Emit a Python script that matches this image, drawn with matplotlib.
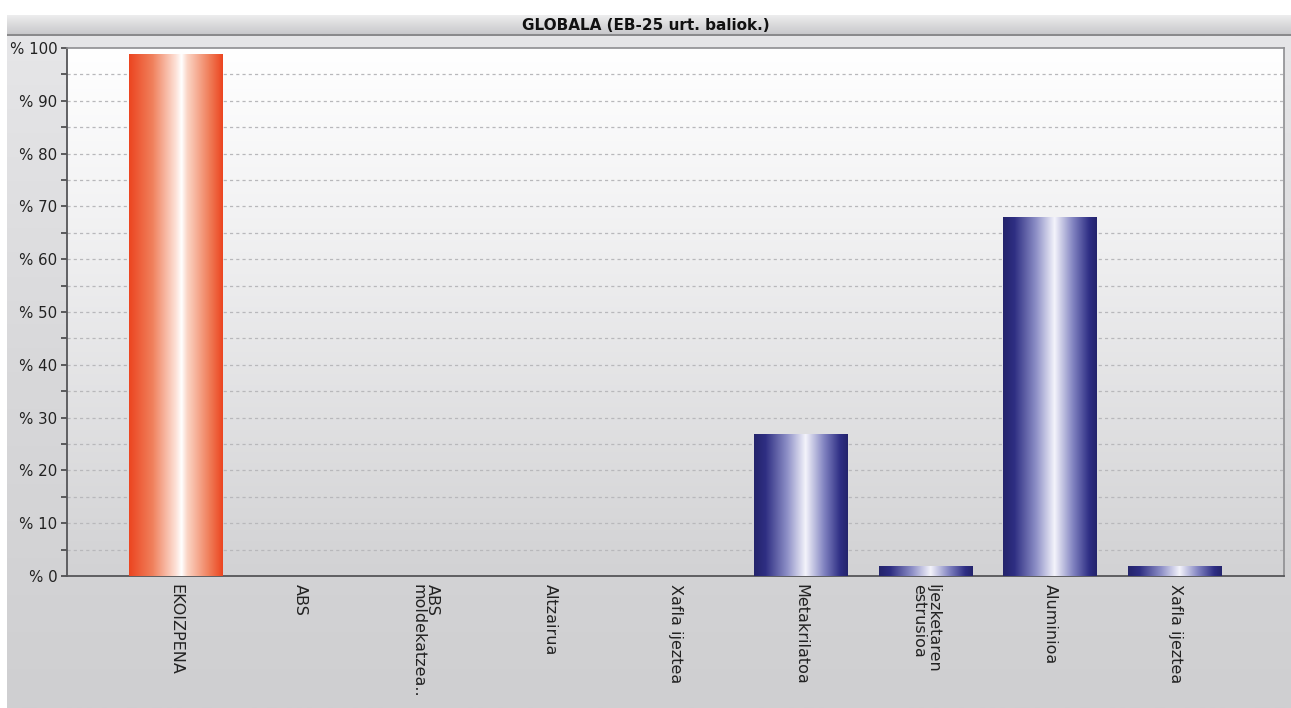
import numpy as np
import matplotlib
matplotlib.use("Agg")
import matplotlib.pyplot as plt
from matplotlib.colors import LinearSegmentedColormap

categories = ["EKOIZPENA", "ABS", "ABS\nmoldekatzea..", "Altzairua", "Xafla ijeztea",
              "Metakrilatoa", "Ijezketaren\nestrusioa", "Aluminioa", "Xafla ijeztea"]
values = [98.8, 0.0, 0.0, 0.0, 0.0, 26.8, 1.9, 67.9, 1.9]
groups = ["total", "part", "part", "part", "part", "part", "part", "part", "part"]
y_ticks = [0, 10, 20, 30, 40, 50, 60, 70, 80, 90, 100]
y_tick_labels = [f"% {v}" for v in y_ticks]
title = "GLOBALA (EB-25 urt. baliok.)"

plt.rcParams["font.family"] = ["DejaVu Sans"]

W, H = 1291, 708
fig = plt.figure(figsize=(W / 100, H / 100), dpi=100)
fig.patch.set_facecolor("white")

# Page background: soft grey gradient below the title bar
bg = fig.add_axes([7 / W, 0, 1 - 7 / W, 1 - 36 / H], zorder=0)
bg.axis("off")
grad_v = np.linspace(0, 1, 256).reshape(-1, 1)
bg_cmap = LinearSegmentedColormap.from_list("bg", ["#e6e6e8", "#d8d8da", "#cfcfd1"])
bg.imshow(grad_v, aspect="auto", cmap=bg_cmap, extent=[0, 1, 0, 1], origin="upper")
bg.set_xlim(0, 1)
bg.set_ylim(0, 1)

# Title bar
tb = fig.add_axes([7 / W, 1 - 36 / H, 1 - 7 / W, 21 / H], zorder=1)
tb.axis("off")
tb_cmap = LinearSegmentedColormap.from_list("tb", ["#ededee", "#d8d8da", "#c6c6c9"])
tb.imshow(grad_v, aspect="auto", cmap=tb_cmap, extent=[0, 1, 0, 1], origin="upper")
tb.set_xlim(0, 1)
tb.set_ylim(0, 1)
tb.axhline(0.04, color="#8a8a8c", lw=2.2)
tb.text(0.5 - 7 / W / 2, 0.5, title, ha="center", va="center",
        fontsize=11, fontweight="bold", color="#111111")

# Main plot area
ax = fig.add_axes([67 / W, 1 - 576 / H, (1284 - 67) / W, (576 - 48) / H], zorder=2)
ax.set_facecolor("none")
x = np.arange(len(categories))
xlim = (-0.87, len(categories) - 1 + 0.87)
ax.set_xlim(*xlim)
ax.set_ylim(0, 100)

plot_cmap = LinearSegmentedColormap.from_list(
    "pa", [(0, "#ffffff"), (0.3, "#f3f3f4"), (1, "#d2d2d4")])
ax.imshow(grad_v, aspect="auto", cmap=plot_cmap,
          extent=[xlim[0], xlim[1], 0, 100], origin="upper", zorder=0)

# Grid at every 5 %
for yv in np.arange(5, 100, 5):
    ax.axhline(yv, color="#b8b8bb", lw=0.9, ls=(0, (2.5, 2.5)), zorder=1)

# Cylinder-like shaded bars
red_cmap = LinearSegmentedColormap.from_list(
    "red", [(0, "#ec4520"), (0.25, "#f0805c"), (0.5, "#fde2d8"), (0.56, "#ffffff"),
            (0.62, "#fbd5c6"), (0.85, "#f0805c"), (1, "#ec4520")])
blue_cmap = LinearSegmentedColormap.from_list(
    "blue", [(0, "#24246c"), (0.12, "#2e2e82"), (0.35, "#8c8ec6"), (0.55, "#f4f4fb"),
             (0.75, "#8082c0"), (0.92, "#2e2e84"), (1, "#24246c")])
grad_h = np.linspace(0, 1, 256).reshape(1, -1)
width = 0.75
bars = ax.bar(x, values, width=width, color="none", edgecolor="none", zorder=2)
for xi, v, g, patch in zip(x, values, groups, bars):
    if v <= 0:
        continue
    cm = red_cmap if g == "total" else blue_cmap
    im = ax.imshow(grad_h, aspect="auto", cmap=cm,
                   extent=[xi - width / 2, xi + width / 2, 0, v], zorder=3)
    im.set_clip_path(patch)
ax.set_xlim(*xlim)
ax.set_ylim(0, 100)

# Axes styling
for side in ("left", "bottom"):
    ax.spines[side].set_color("#555558")
    ax.spines[side].set_linewidth(1.3)
for side in ("top", "right"):
    ax.spines[side].set_color("#8e8e91")
    ax.spines[side].set_linewidth(1.2)

ax.set_yticks(y_ticks)
ax.set_yticklabels(y_tick_labels, fontsize=10.8, color="#222222")
ax.set_yticks(np.arange(5, 100, 10), minor=True)
ax.tick_params(axis="y", which="both", length=4, width=1.2, color="#444446", pad=3)

ax.set_xticks(x)
ax.set_xticklabels(categories, rotation=270, fontsize=11.5, color="#222222",
                   ha="center", va="top", linespacing=0.95, multialignment="left")
ax.tick_params(axis="x", length=0, pad=6)

fig.savefig("out.png", dpi=100)
